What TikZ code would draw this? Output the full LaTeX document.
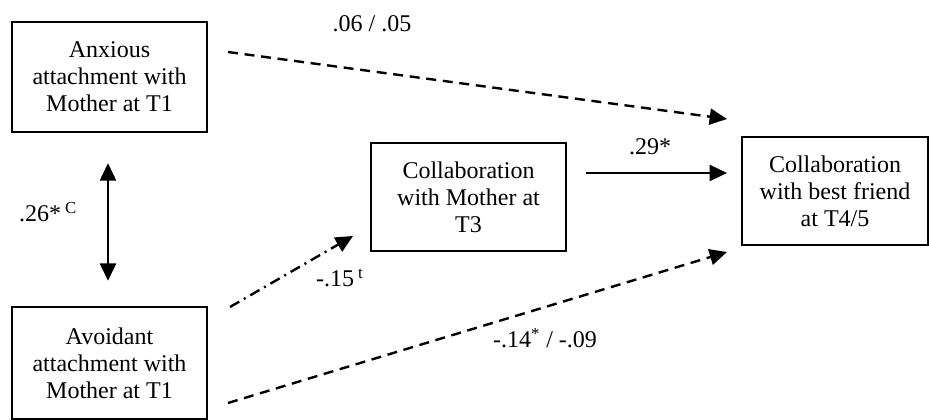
\documentclass[tikz,border=0pt]{standalone}
\usepackage{fontspec}
\setmainfont{Liberation Serif}
\usetikzlibrary{arrows.meta}

\begin{document}
\begin{tikzpicture}[
  x=0.75pt,
  y=-0.75pt,
  line width=1.8pt,
  every node/.style={font=\fontsize{18pt}{20.25pt}\selectfont},
  box/.style={
    draw,
    align=center,
    inner sep=0pt,
    minimum width=146.25pt,
    minimum height=81pt,
  },
  link/.style={-{Triangle[length=13pt,width=12pt]}},
  nonsig/.style={link, dash pattern=on 7.5pt off 5pt},
  trend/.style={link, dash pattern=on 8pt off 4pt on 1.5pt off 4pt},
]

  \useasboundingbox (0,0) rectangle (929,420);

  \node[box, minimum height=82.5pt] (anx) at (109.5,77) {Anxious\\attachment with\\Mother at T1};
  \node[box, minimum height=84pt] (avo) at (109.5,363) {Avoidant\\attachment with\\Mother at T1};
  \node[box] (mom) at (468.5,197) {Collaboration\\with Mother at\\T3};
  \node[box, minimum width=139.5pt] (fri) at (835,191) {Collaboration\\with best friend\\at T4/5};

  \coordinate (anxout) at (228,52);
  \coordinate (friup) at (727,119);
  \coordinate (avoup) at (230,307);
  \coordinate (momin) at (353,236);
  \coordinate (momout) at (586,173);
  \coordinate (frimid) at (727,173);
  \coordinate (avodown) at (228,403);
  \coordinate (frilow) at (727,252);

  \draw[nonsig] (anxout) -- (friup);
  \draw[{Triangle[length=13pt,width=12pt]}-{Triangle[length=13pt,width=12pt]}, shorten <=22.5pt, shorten >=18.75pt] (anx.south -| 108,0) -- (avo.north -| 108,0);
  \draw[trend] (avoup) -- (momin);
  \draw[link] (momout) -- (frimid);
  \draw[nonsig] (avodown) -- (frilow);

  \node[anchor=base] (lanx) at (372,32) {.06 / .05};
  \node[anchor=base west, inner sep=0pt] (lcor) at (18,222) {.26*\,\textsuperscript{C}};
  \node[anchor=base west, inner sep=0pt] (ltrend) at (315,287) {-.15\,\textsuperscript{t}};
  \node[anchor=base] (lmom) at (650,155) {.29*};
  \node[anchor=base west, inner sep=0pt] (lavo) at (492,348) {-.14\textsuperscript{*} / -.09};

\end{tikzpicture}
\end{document}
